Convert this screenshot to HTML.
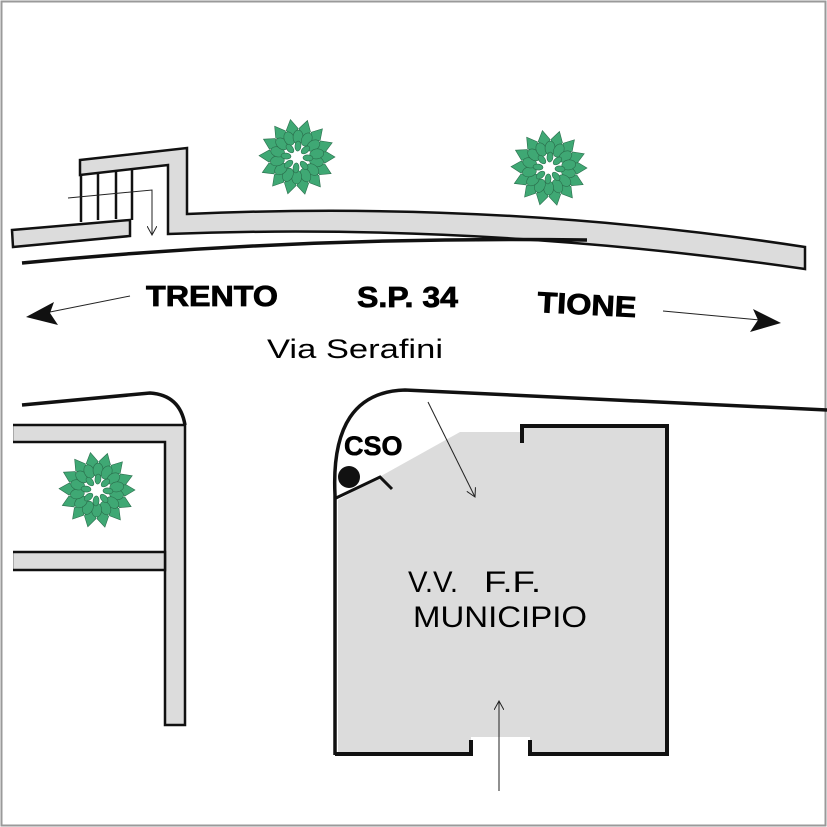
<!DOCTYPE html>
<html><head><meta charset="utf-8"><style>html,body{margin:0;padding:0;background:#fff}svg{display:block}</style></head>
<body>
<svg width="827" height="827" viewBox="0 0 827 827" xmlns="http://www.w3.org/2000/svg" font-family="Liberation Sans, Arial, sans-serif">
<defs>
<marker id="ah" markerWidth="10" markerHeight="10" refX="9" refY="5" orient="auto" markerUnits="userSpaceOnUse"><path d="M0,0 L9,5 L0,10" fill="none" stroke="#222" stroke-width="1"/></marker>
<g id="tree" fill="#3fa874" stroke="#2a6e4c" stroke-width="0.6">
<g>
<path d="M18,0 L28,-6 L38,0 L28,6 Z"/>
<path d="M18,0 L28,-6 L38,0 L28,6 Z" transform="rotate(26)"/>
<path d="M18,0 L28,-6 L38,0 L28,6 Z" transform="rotate(52)"/>
<path d="M18,0 L28,-6 L38,0 L28,6 Z" transform="rotate(78)"/>
<path d="M18,0 L28,-6 L38,0 L28,6 Z" transform="rotate(104)"/>
<path d="M18,0 L28,-6 L38,0 L28,6 Z" transform="rotate(130)"/>
<path d="M18,0 L28,-6 L38,0 L28,6 Z" transform="rotate(156)"/>
<path d="M18,0 L28,-6 L38,0 L28,6 Z" transform="rotate(182)"/>
<path d="M18,0 L28,-6 L38,0 L28,6 Z" transform="rotate(208)"/>
<path d="M18,0 L28,-6 L38,0 L28,6 Z" transform="rotate(234)"/>
<path d="M18,0 L28,-6 L38,0 L28,6 Z" transform="rotate(260)"/>
<path d="M18,0 L28,-6 L38,0 L28,6 Z" transform="rotate(286)"/>
<path d="M18,0 L28,-6 L38,0 L28,6 Z" transform="rotate(312)"/>
<path d="M18,0 L28,-6 L38,0 L28,6 Z" transform="rotate(338)"/>
</g>
<g transform="rotate(13)">
<ellipse cx="20" cy="0" rx="7" ry="5"/>
<ellipse cx="20" cy="0" rx="7" ry="5" transform="rotate(26)"/>
<ellipse cx="20" cy="0" rx="7" ry="5" transform="rotate(52)"/>
<ellipse cx="20" cy="0" rx="7" ry="5" transform="rotate(78)"/>
<ellipse cx="20" cy="0" rx="7" ry="5" transform="rotate(104)"/>
<ellipse cx="20" cy="0" rx="7" ry="5" transform="rotate(130)"/>
<ellipse cx="20" cy="0" rx="7" ry="5" transform="rotate(156)"/>
<ellipse cx="20" cy="0" rx="7" ry="5" transform="rotate(182)"/>
<ellipse cx="20" cy="0" rx="7" ry="5" transform="rotate(208)"/>
<ellipse cx="20" cy="0" rx="7" ry="5" transform="rotate(234)"/>
<ellipse cx="20" cy="0" rx="7" ry="5" transform="rotate(260)"/>
<ellipse cx="20" cy="0" rx="7" ry="5" transform="rotate(286)"/>
<ellipse cx="20" cy="0" rx="7" ry="5" transform="rotate(312)"/>
<ellipse cx="20" cy="0" rx="7" ry="5" transform="rotate(338)"/>
</g>
<g transform="rotate(5)">
<ellipse cx="11" cy="0" rx="5" ry="3"/>
<ellipse cx="11" cy="0" rx="5" ry="3" transform="rotate(45)"/>
<ellipse cx="11" cy="0" rx="5" ry="3" transform="rotate(90)"/>
<ellipse cx="11" cy="0" rx="5" ry="3" transform="rotate(135)"/>
<ellipse cx="11" cy="0" rx="5" ry="3" transform="rotate(180)"/>
<ellipse cx="11" cy="0" rx="5" ry="3" transform="rotate(225)"/>
<ellipse cx="11" cy="0" rx="5" ry="3" transform="rotate(270)"/>
<ellipse cx="11" cy="0" rx="5" ry="3" transform="rotate(315)"/>
</g>
</g>
</defs>

<rect x="1.5" y="1.5" width="824" height="824" fill="#fff" stroke="#9a9a9a" stroke-width="2"/>

<!-- top road wall -->
<path d="M12,230 L130,220 L130,236 L13,247 Z" fill="#dcdcdc" stroke="#111" stroke-width="2.5"/>
<path d="M80,160 L187,148 L187,214 Q500,200 805,247 L805,269 Q480,222 168,234 L168,165 L80,175 Z" fill="#dcdcdc" stroke="#111" stroke-width="2.5"/>
<path d="M22,263 Q300,236 587,240" fill="none" stroke="#111" stroke-width="3.5"/>
<!-- stairs -->
<g stroke="#111" stroke-width="2.5">
<line x1="81" y1="174" x2="81" y2="222"/>
<line x1="98" y1="172" x2="98" y2="220"/>
<line x1="116" y1="171" x2="116" y2="219"/>
<line x1="132" y1="169" x2="132" y2="220"/>
</g>
<path d="M68,198 L152,190 L152,235" fill="none" stroke="#222" stroke-width="1" marker-end="url(#ah)"/>

<use href="#tree" transform="translate(297,157)"/>
<use href="#tree" transform="translate(549,168)"/>
<use href="#tree" transform="translate(97,490)"/>

<!-- labels -->
<text x="146" y="306" font-size="29" font-weight="bold" textLength="132" lengthAdjust="spacingAndGlyphs" stroke="#000" stroke-width="0.8">TRENTO</text>
<text x="357" y="307" font-size="29" font-weight="bold" textLength="101" lengthAdjust="spacingAndGlyphs" stroke="#000" stroke-width="0.8">S.P. 34</text>
<text x="537" y="312" font-size="29" font-weight="bold" textLength="99" lengthAdjust="spacingAndGlyphs" transform="rotate(3 537 312)" stroke="#000" stroke-width="0.8">TIONE</text>
<text x="267" y="358" font-size="27" textLength="176" lengthAdjust="spacingAndGlyphs">Via Serafini</text>

<!-- direction arrows -->
<line x1="130" y1="296" x2="45" y2="313" stroke="#222" stroke-width="1"/>
<path d="M26,317 L54,302 L50,313 L58,325 Z" fill="#111"/>
<line x1="663" y1="311" x2="760" y2="320" stroke="#222" stroke-width="1"/>
<path d="M781,323 L753,309 L758,320 L750,332 Z" fill="#111"/>

<!-- lower left block -->
<path d="M22,405 L150,393 Q180,395 185,425" fill="none" stroke="#111" stroke-width="3.5"/>
<path d="M12,425 L185,425 L185,725 L165,725 L165,442 L12,442 Z" fill="#dcdcdc" stroke="#111" stroke-width="2.5"/>
<rect x="12" y="552" width="153" height="18" fill="#dcdcdc" stroke="#111" stroke-width="2.5"/>
<rect x="8" y="420" width="5" height="160" fill="#fff"/>

<!-- right block -->
<path d="M338,500 L460,432 L522,432 L522,425 L667,425 L667,754 L530,754 L530,737 L471,737 L471,754 L338,754 Z" fill="#dcdcdc"/>
<path d="M335,755 L335,495 Q330,392 405,390 L827,410" fill="none" stroke="#111" stroke-width="3.5"/>
<path d="M522,443 L522,426 L667,426 L667,754 L530,754 L530,740 M471,740 L471,754 L335,754" fill="none" stroke="#111" stroke-width="4"/>
<path d="M336,498 L380,477 L392,489" fill="none" stroke="#111" stroke-width="3"/>
<circle cx="349" cy="477" r="11" fill="#111"/>
<text x="344" y="455" font-size="27" font-weight="bold" stroke="#000" stroke-width="0.6">CSO</text>
<line x1="428" y1="402" x2="475" y2="497" stroke="#222" stroke-width="1" marker-end="url(#ah)"/>
<line x1="499" y1="791" x2="499" y2="701" stroke="#222" stroke-width="1" marker-end="url(#ah)"/>

<text x="408" y="592" font-size="30" textLength="50" lengthAdjust="spacingAndGlyphs">V.V.</text>
<text x="484" y="592" font-size="30" textLength="57" lengthAdjust="spacingAndGlyphs">F.F.</text>
<text x="413" y="627" font-size="30" textLength="174" lengthAdjust="spacingAndGlyphs">MUNICIPIO</text>
</svg>
</body></html>
